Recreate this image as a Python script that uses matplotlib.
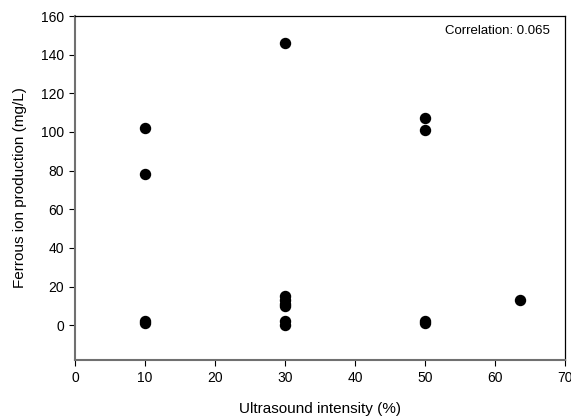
import matplotlib
matplotlib.use("Agg")
import matplotlib.pyplot as plt

plt.rcParams['font.family'] = ['Liberation Sans', 'DejaVu Sans']

intensity = [10, 10, 10, 10, 30, 30, 30, 30, 30, 30, 30, 50, 50, 50, 50, 63.6]
ferrous = [102, 78, 2, 1, 146, 15, 13, 11, 10, 2, 0, 107, 101, 2, 1, 13]
xticks = [0, 10, 20, 30, 40, 50, 60, 70]
yticks = [0, 20, 40, 60, 80, 100, 120, 140, 160]
corr_text = "Correlation: 0.065"

fig = plt.figure(figsize=(5.71, 4.19), dpi=100)
ax = fig.add_axes([75/571, 59/419, 490/571, 344/419])
ax.plot(intensity, ferrous, 'o', color='black', markersize=7.2, linestyle='none', clip_on=False)
ax.set_xlim(0, 70)
ax.set_ylim(-18, 160)
ax.set_xticks(xticks)
ax.set_yticks(yticks)
ax.tick_params(direction='out', length=4, width=0.8, labelsize=10, colors='black', pad=4)
ax.tick_params(top=False, right=False)
for s in ['left', 'bottom']:
    ax.spines[s].set_color('#707070')
    ax.spines[s].set_linewidth(1.5)
for s in ['top', 'right']:
    ax.spines[s].set_color('black')
    ax.spines[s].set_linewidth(0.9)
ax.set_xlabel('Ultrasound intensity (%)', fontsize=11, labelpad=12)
ax.set_ylabel('Ferrous ion production (mg/L)', fontsize=11, labelpad=10)
ax.text(0.969, 0.975, corr_text, transform=ax.transAxes, ha='right', va='top', fontsize=9.5)
fig.savefig('out.png', dpi=100)
